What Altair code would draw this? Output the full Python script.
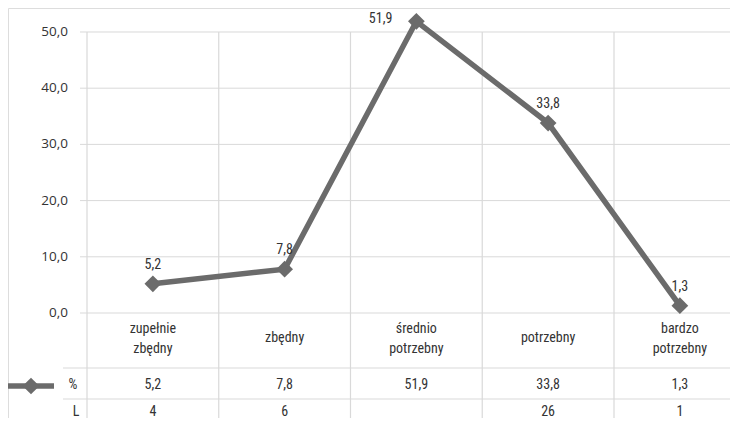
import altair as alt
import pandas as pd

categories = ["zupełnie\nzbędny", "zbędny", "średnio\npotrzebny", "potrzebny", "bardzo\npotrzebny"]
pct = [5.2, 7.8, 51.9, 33.8, 1.3]
counts = [4, 6, None, 26, 1]
y_ticks = [0, 10, 20, 30, 40, 50]

LINE = "#6b6b6b"
GRID = "#d9d9d9"
TXT = "#333333"
NARROW = "Roboto Condensed, Roboto, sans-serif"
FS = 14

W, H = 722, 410
xscale = alt.Scale(domain=[-1.0996, 4.3805], nice=False, zero=False)
yscale = alt.Scale(domain=[-18.68, 54.27], nice=False, zero=False)

df = pd.DataFrame({
    "idx": list(range(len(categories))),
    "cat": categories,
    "pct": pct,
    "cnt": counts,
})
ticks = pd.DataFrame({"v": y_ticks})
bounds = pd.DataFrame({"b": [i - 0.5 for i in range(len(categories) + 1)]})
one = pd.DataFrame({"a": [0]})

X = alt.X("idx:Q", scale=xscale, axis=None)
Y = alt.Y("pct:Q", scale=yscale, axis=None)

hgrid = alt.Chart(ticks).mark_rule(color=GRID, strokeWidth=1).encode(
    y=alt.Y("v:Q", scale=yscale, axis=None), x=alt.value(72), x2=alt.value(W)
)
vgrid = alt.Chart(bounds).mark_rule(color=GRID, strokeWidth=1.2).encode(
    x=alt.X("b:Q", scale=xscale, axis=None), y=alt.value(24), y2=alt.value(H)
)
row1 = alt.Chart(one).mark_rule(color=GRID, strokeWidth=1).encode(
    y=alt.value(360), x=alt.value(55), x2=alt.value(W)
)
row2 = alt.Chart(one).mark_rule(color=GRID, strokeWidth=1).encode(
    y=alt.value(391), x=alt.value(55), x2=alt.value(W)
)
ylabels = alt.Chart(ticks).transform_calculate(
    lab="replace(format(datum.v, '.1f'), '.', ',')"
).mark_text(align="right", baseline="middle", font="Open Sans", fontSize=13.5, color=TXT).encode(
    y=alt.Y("v:Q", scale=yscale, axis=None), x=alt.value(60), text="lab:N"
)

base = alt.Chart(df)
line = base.mark_line(color=LINE, strokeWidth=5.5).encode(x=X, y=Y)
pts = base.mark_point(shape="diamond", filled=True, size=280, color=LINE, opacity=1).encode(x=X, y=Y)

fmt = base.transform_calculate(
    lab="replace(format(datum.pct, '.1f'), '.', ',')",
    clab="isValid(datum.cnt) ? format(datum.cnt, 'd') : ''",
)
peak = max(pct)
lab_above = fmt.transform_filter(alt.datum.pct < peak).mark_text(
    font=NARROW, fontSize=FS, color=TXT, dy=-19, baseline="middle"
).encode(x=X, y=Y, text="lab:N")
lab_left = fmt.transform_filter(alt.datum.pct >= peak).mark_text(
    font=NARROW, fontSize=FS, color=TXT, dx=-24, dy=-2, align="right", baseline="middle"
).encode(x=X, y=Y, text="lab:N")

cat_multi = base.transform_filter("indexof(datum.cat, '\\n') >= 0").mark_text(
    font=NARROW, fontSize=FS, color=TXT, lineBreak="\n", lineHeight=20, baseline="middle"
).encode(x=X, y=alt.value(321), text="cat:N")
cat_single = base.transform_filter("indexof(datum.cat, '\\n') < 0").mark_text(
    font=NARROW, fontSize=FS, color=TXT, baseline="middle"
).encode(x=X, y=alt.value(330), text="cat:N")
pct_text = fmt.mark_text(font=NARROW, fontSize=FS, color=TXT, baseline="middle").encode(
    x=X, y=alt.value(377), text="lab:N"
)
cnt_text = fmt.mark_text(font=NARROW, fontSize=FS, color=TXT, baseline="middle").encode(
    x=X, y=alt.value(404), text="clab:N"
)

leg_line = alt.Chart(one).mark_rule(color=LINE, strokeWidth=5.5).encode(
    x=alt.value(0), x2=alt.value(46), y=alt.value(378)
)
leg_pt = alt.Chart(one).mark_point(shape="diamond", filled=True, size=280, color=LINE, opacity=1).encode(
    x=alt.value(23), y=alt.value(378)
)
leg_pct = alt.Chart(one).mark_text(font=NARROW, fontSize=FS, color=TXT, baseline="middle").encode(
    x=alt.value(65), y=alt.value(377), text=alt.value("%")
)
leg_l = alt.Chart(one).mark_text(font=NARROW, fontSize=FS, color=TXT, baseline="middle").encode(
    x=alt.value(68), y=alt.value(404), text=alt.value("L")
)

chart = alt.layer(
    hgrid, vgrid, row1, row2, ylabels, line, pts, lab_above, lab_left,
    cat_multi, cat_single, pct_text, cnt_text, leg_line, leg_pt, leg_pct, leg_l,
).properties(
    width=W, height=H, autosize=alt.AutoSizeParams(type="none"), padding=0
).configure_view(stroke=None).configure(background="white")

chart.save("out.html", embed_options={"renderer": "svg", "actions": False})
